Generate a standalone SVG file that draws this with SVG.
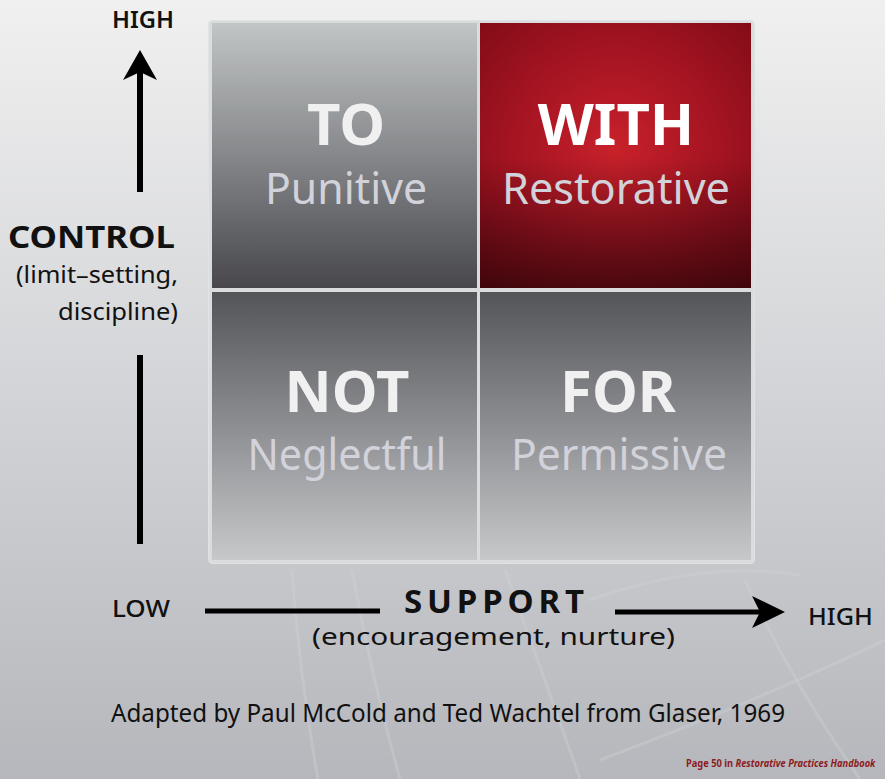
<svg xmlns="http://www.w3.org/2000/svg" width="885" height="779" viewBox="0 0 885 779">
<defs>
<linearGradient id="bg" x1="0" y1="0" x2="0" y2="1">
<stop offset="0" stop-color="#f0f0f0"/>
<stop offset="0.45" stop-color="#d6d7da"/>
<stop offset="1" stop-color="#b6b7bc"/>
</linearGradient>
<linearGradient id="gTop" x1="0" y1="0" x2="0" y2="1">
<stop offset="0" stop-color="#c2c5c5"/>
<stop offset="0.5" stop-color="#85878a"/>
<stop offset="1" stop-color="#47474c"/>
</linearGradient>
<linearGradient id="gBot" x1="0" y1="0" x2="0" y2="1">
<stop offset="0" stop-color="#545559"/>
<stop offset="0.5" stop-color="#8d8e92"/>
<stop offset="1" stop-color="#c6c8c9"/>
</linearGradient>
<radialGradient id="gRed" cx="0.5" cy="0.48" r="0.75">
<stop offset="0" stop-color="#c8212a"/>
<stop offset="0.5" stop-color="#a51422"/>
<stop offset="1" stop-color="#7c0a16"/>
</radialGradient>
<linearGradient id="redShade" x1="0" y1="0" x2="0" y2="1">
<stop offset="0" stop-color="#000" stop-opacity="0"/>
<stop offset="0.5" stop-color="#000" stop-opacity="0"/>
<stop offset="1" stop-color="#000" stop-opacity="0.5"/>
</linearGradient>
</defs>
<style>
.t{font-family:"Noto Sans","DejaVu Sans",sans-serif}
.title{font-weight:bold;font-size:58px;text-anchor:middle}
.sub{font-size:44px;text-anchor:middle;fill:#d2d2da}
.lbl{fill:#111}
.axis{stroke:#000;fill:none}
.globe{stroke:#cdd4d6;stroke-width:3;fill:none;opacity:0.35}
.note{font-size:10px;font-weight:bold;fill:#8e1b1f}
</style>
<rect x="0" y="0" width="885" height="779" fill="url(#bg)"/>
<g id="globe">
<path class="globe" d="M292,570 Q300,680 318,779"/>
<path class="globe" d="M352,570 Q372,680 400,779"/>
<path class="globe" d="M505,570 Q545,680 580,779"/>
<path class="globe" d="M590,600 Q700,560 800,575"/>
<path class="globe" d="M745,580 Q790,680 860,779"/>
<path class="globe" d="M600,760 Q760,700 885,640"/>
<path class="globe" d="M640,420 L720,330"/>
</g>
<g id="grid">
<rect x="208.5" y="20.5" width="546" height="543" rx="4" fill="#d9dddd" stroke="#e0e3e3"/>
</g>
<g id="node-to">
<rect x="212" y="23" width="265" height="265" fill="url(#gTop)"/>
<text class="t title" x="346" y="145" fill="#f0f0f0">TO</text>
<text class="t sub" x="346" y="204" textLength="162" lengthAdjust="spacingAndGlyphs">Punitive</text>
</g>
<g id="node-with">
<rect x="480" y="23" width="271" height="265" fill="url(#gRed)"/>
<rect x="480" y="23" width="271" height="265" fill="url(#redShade)"/>
<text class="t title" x="616" y="145" fill="#ffffff">WITH</text>
<text class="t sub" x="616" y="204" textLength="228" lengthAdjust="spacingAndGlyphs">Restorative</text>
</g>
<g id="node-not">
<rect x="212" y="292" width="265" height="268" fill="url(#gBot)"/>
<text class="t title" x="347" y="412" fill="#f0f0f0">NOT</text>
<text class="t sub" x="347" y="470" textLength="199" lengthAdjust="spacingAndGlyphs">Neglectful</text>
</g>
<g id="node-for">
<rect x="480" y="292" width="271" height="268" fill="url(#gBot)"/>
<text class="t title" x="618" y="412" fill="#f0f0f0">FOR</text>
<text class="t sub" x="619" y="470" textLength="216" lengthAdjust="spacingAndGlyphs">Permissive</text>
</g>
<g id="connectors">
<line class="axis" x1="140" y1="192" x2="140" y2="60" stroke-width="6"/>
<path d="M140,50 L157,80 L140,72 L123,80 Z" fill="#000"/>
<line class="axis" x1="140" y1="355" x2="140" y2="544" stroke-width="6"/>
<line class="axis" x1="205" y1="611" x2="380" y2="611" stroke-width="5"/>
<line class="axis" x1="615" y1="612" x2="765" y2="612" stroke-width="5"/>
<path d="M785,612 L752,596 L760,612 L752,628 Z" fill="#000"/>
</g>
<g id="labels">
<text class="t lbl" x="112" y="28" font-size="24" font-weight="600" textLength="62" lengthAdjust="spacingAndGlyphs">HIGH</text>
<text class="t lbl" x="8" y="248" font-size="31" font-weight="bold" textLength="167" lengthAdjust="spacingAndGlyphs">CONTROL</text>
<text class="t lbl" x="178" y="283" font-size="24" text-anchor="end" textLength="162" lengthAdjust="spacingAndGlyphs">(limit–setting,</text>
<text class="t lbl" x="178" y="320" font-size="24" text-anchor="end" textLength="120" lengthAdjust="spacingAndGlyphs">discipline)</text>
<text class="t lbl" x="112" y="617" font-size="24" font-weight="500" textLength="58" lengthAdjust="spacingAndGlyphs">LOW</text>
<text class="t lbl" x="404" y="613" font-size="33" font-weight="bold" textLength="180" lengthAdjust="spacing">SUPPORT</text>
<text class="t lbl" x="312" y="645" font-size="24" textLength="363" lengthAdjust="spacingAndGlyphs">(encouragement, nurture)</text>
<text class="t lbl" x="808" y="625" font-size="24" font-weight="500" textLength="65" lengthAdjust="spacingAndGlyphs">HIGH</text>
<text class="t lbl" x="111" y="722" font-size="26" textLength="674" lengthAdjust="spacingAndGlyphs">Adapted by Paul McCold and Ted Wachtel from Glaser, 1969</text>
<text class="t note" transform="translate(686,767) scale(0.93,1)" x="0" y="0">Page 50 in <tspan font-style="italic">Restorative Practices Handbook</tspan></text>
</g>
</svg>
